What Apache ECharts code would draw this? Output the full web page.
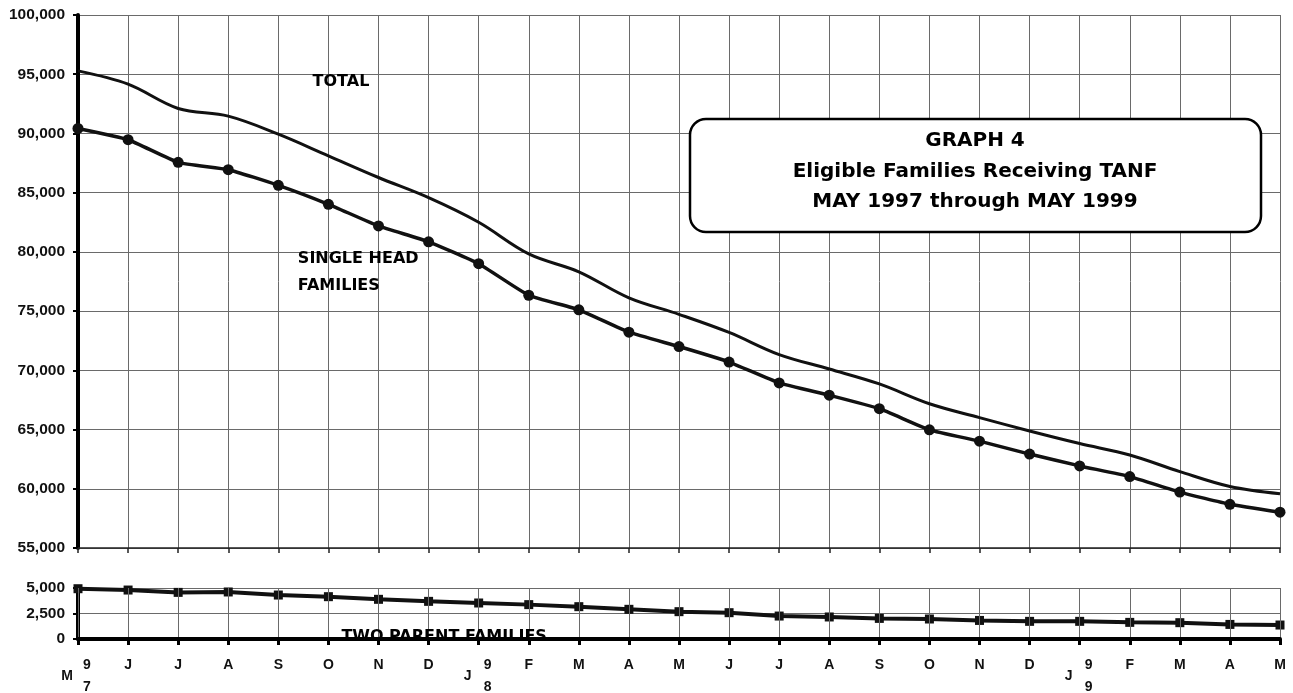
<!DOCTYPE html>
<html><head><meta charset="utf-8">
<script src="https://cdn.jsdelivr.net/npm/echarts@6/dist/echarts.min.js"></script>
<style>html,body{margin:0;padding:0;background:#fff}#c{width:1293px;height:693px}</style>
</head><body><div id="c"></div>
<script>
// Months May 1997 .. May 1999
const months = ['M','J','J','A','S','O','N','D','J','F','M','A','M','J','J','A','S','O','N','D','J','F','M','A','M'];
// Year markers under the axis
const yearIdx = [0, 8, 20];
const yearText = ['97', '98', '99'];
// Series values
const totalFamilies = [95280, 94160, 92110, 91460, 89940, 88110, 86280, 84580, 82500, 79830, 78320, 76120, 74730, 73200, 71330, 70110, 68850, 67180, 66010, 64880, 63820, 62850, 61450, 60190, 59580];
const singleHead = [90420, 89470, 87560, 86940, 85620, 84020, 82190, 80850, 79000, 76340, 75110, 73220, 72010, 70700, 68940, 67900, 66760, 64980, 64020, 62930, 61930, 61030, 59720, 58690, 58020];
const twoParent = [4930, 4800, 4570, 4610, 4310, 4150, 3890, 3690, 3530, 3370, 3170, 2910, 2680, 2580, 2250, 2160, 2020, 1960, 1820, 1730, 1730, 1630, 1600, 1430, 1370];

const chart = echarts.init(document.getElementById('c'));
const gridColor = '#6a6a6a';
const lblFont = {fontFamily: '"Liberation Sans", Arial, sans-serif', fontWeight: 'bold', color: '#111'};
const fmt = v => Number(v).toLocaleString('en-US');

chart.setOption({
  animation: false,
  backgroundColor: '#fff',
  grid: [
    {left: 78, right: 13, top: 15, height: 533, outerBoundsMode: 'none', containLabel: false},
    {left: 78, right: 13, top: 588, height: 51, outerBoundsMode: 'none', containLabel: false}
  ],
  xAxis: [
    {gridIndex: 0, type: 'category', data: months, boundaryGap: false,
     axisLine: {lineStyle: {color: '#222', width: 1.5}},
     axisTick: {show: true, length: 5, lineStyle: {color: '#222', width: 1.5}},
     axisLabel: {show: false},
     splitLine: {show: true, lineStyle: {color: gridColor, width: 1}}},
    {gridIndex: 1, type: 'category', data: months, boundaryGap: false, z: 10,
     axisLine: {lineStyle: {color: '#000', width: 4}},
     axisTick: {show: true, length: 6, lineStyle: {color: '#000', width: 3}},
     axisLabel: Object.assign({interval: 0, margin: 19, fontSize: 14,
       formatter: (v, i) => yearIdx.includes(i) ? '{s|' + v + '}' : v,
       rich: {s: {padding: [11, 22, 0, 0], fontSize: 14, fontWeight: 'bold', fontFamily: '"Liberation Sans", Arial, sans-serif', color: '#111'}}
     }, lblFont),
     splitLine: {show: true, lineStyle: {color: gridColor, width: 1}}},
    {gridIndex: 1, type: 'category', data: months, boundaryGap: false, position: 'bottom',
     axisLine: {show: false}, axisTick: {show: false}, splitLine: {show: false},
     axisLabel: Object.assign({interval: 0, margin: 15, fontSize: 14, lineHeight: 22, padding: [0, 0, 0, 18],
       formatter: (v, i) => { const k = yearIdx.indexOf(i); return k < 0 ? '' : yearText[k][0] + '\n' + yearText[k][1]; }
     }, lblFont)}
  ],
  yAxis: [
    {gridIndex: 0, type: 'value', min: 55000, max: 100000, interval: 5000,
     axisLine: {show: true, lineStyle: {color: '#000', width: 4}},
     axisTick: {show: true, length: 5, lineStyle: {color: '#000', width: 2}},
     axisLabel: Object.assign({margin: 13, fontSize: 15.5, formatter: fmt}, lblFont),
     splitLine: {show: true, lineStyle: {color: gridColor, width: 1}}},
    {gridIndex: 1, type: 'value', min: 0, max: 5000, interval: 2500,
     axisLine: {show: true, lineStyle: {color: '#000', width: 4}},
     axisTick: {show: true, length: 5, lineStyle: {color: '#000', width: 2}},
     axisLabel: Object.assign({margin: 13, fontSize: 15.5, formatter: fmt}, lblFont),
     splitLine: {show: true, lineStyle: {color: gridColor, width: 1}}}
  ],
  series: [
    {name: 'TOTAL', type: 'line', xAxisIndex: 0, yAxisIndex: 0, data: totalFamilies,
     smooth: 0.35, symbol: 'none', lineStyle: {color: '#111', width: 3}},
    {name: 'SINGLE HEAD FAMILIES', type: 'line', xAxisIndex: 0, yAxisIndex: 0, data: singleHead,
     smooth: 0.15, symbol: 'circle', symbolSize: 11, itemStyle: {color: '#111'},
     lineStyle: {color: '#111', width: 3.5}},
    {name: 'TWO PARENT FAMILIES', type: 'line', xAxisIndex: 1, yAxisIndex: 1, data: twoParent,
     symbol: 'rect', symbolSize: 9, itemStyle: {color: '#111'},
     lineStyle: {color: '#111', width: 4}}
  ]
});

// annotation positions from data coordinates
function px(g, xi, yv) {
  const i0 = Math.floor(xi), f = xi - i0;
  const a = chart.convertToPixel({gridIndex: g}, [i0, yv]);
  const b = chart.convertToPixel({gridIndex: g}, [i0 + 1, yv]);
  return [a[0] + f * (b[0] - a[0]), a[1]];
}
const annFont = 'bold 16px "DejaVu Sans", sans-serif';
function txt(p, text, align, font, z) {
  return {type: 'text', z: z || 50, style: {text: text, x: p[0], y: p[1], font: font || annFont, fill: '#000',
    textAlign: align, align: align, textVerticalAlign: 'middle', verticalAlign: 'middle'}};
}
const titleFont = 'bold 20px "DejaVu Sans", sans-serif';
chart.setOption({
  graphic: {elements: [
    txt(px(0, 5.25, 94340), 'TOTAL', 'center'),
    txt(px(0, 4.39, 79400), 'SINGLE HEAD', 'left'),
    txt(px(0, 4.39, 77120), 'FAMILIES', 'left'),
    txt(px(1, 7.31, 180), 'TWO PARENT FAMILIES', 'center', annFont, 0),
    {type: 'rect', z: 100, shape: {x: 690, y: 119, width: 571, height: 113, r: 16},
     style: {fill: '#fff', stroke: '#000', lineWidth: 2.5}},
    txt([975, 141], 'GRAPH 4', 'center', titleFont, 101),
    txt([975, 172], 'Eligible Families Receiving TANF', 'center', titleFont, 101),
    txt([975, 202], 'MAY 1997 through MAY 1999', 'center', titleFont, 101)
  ]}
});
</script></body></html>
